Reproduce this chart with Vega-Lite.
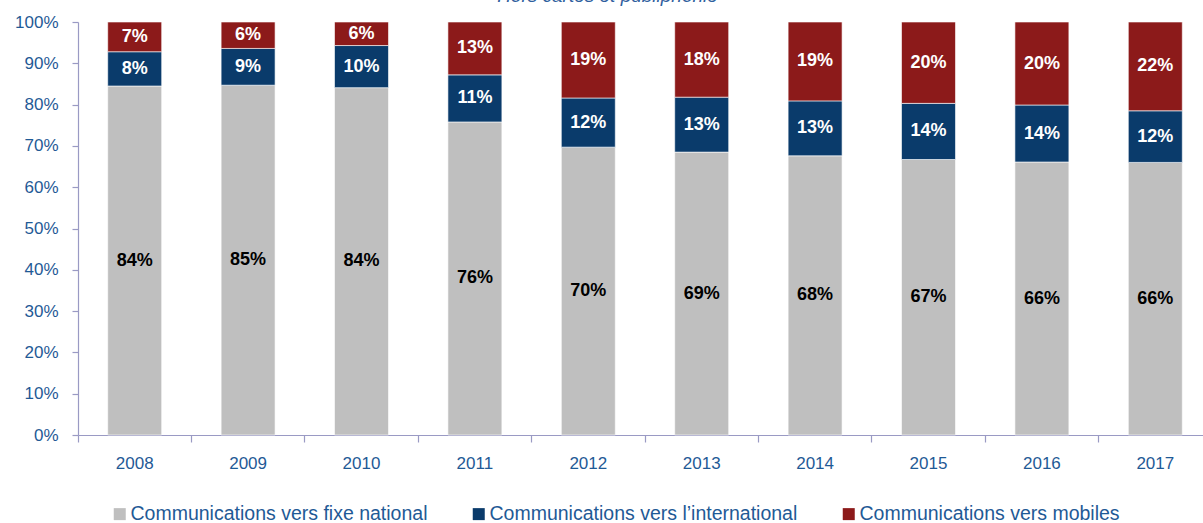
{
  "$schema": "https://vega.github.io/schema/vega-lite/v6.json",
  "width": 1125,
  "height": 413,
  "autosize": "none",
  "padding": {"left": 78, "top": 22, "right": 0, "bottom": 88},
  "config": {"view": {"stroke": null}, "font": "Liberation Sans"},
  "title": {
    "text": "Hors cartes et publiphonie",
    "font": "Liberation Sans",
    "fontSize": 19,
    "fontStyle": "italic",
    "fontWeight": "normal",
    "color": "#2F5F9E",
    "anchor": "middle",
    "frame": "group",
    "baseline": "alphabetic",
    "offset": 0,
    "dx": -33,
    "dy": 8
  },
  "data": {
    "values": [
      {"year": "2008", "series": "Communications vers fixe national", "rank": 1, "value": 84.5, "label": "84%"},
      {"year": "2008", "series": "Communications vers l’international", "rank": 2, "value": 8.3, "label": "8%"},
      {"year": "2008", "series": "Communications vers mobiles", "rank": 3, "value": 7.2, "label": "7%"},
      {"year": "2009", "series": "Communications vers fixe national", "rank": 1, "value": 84.7, "label": "85%"},
      {"year": "2009", "series": "Communications vers l’international", "rank": 2, "value": 8.9, "label": "9%"},
      {"year": "2009", "series": "Communications vers mobiles", "rank": 3, "value": 6.4, "label": "6%"},
      {"year": "2010", "series": "Communications vers fixe national", "rank": 1, "value": 84.1, "label": "84%"},
      {"year": "2010", "series": "Communications vers l’international", "rank": 2, "value": 10.2, "label": "10%"},
      {"year": "2010", "series": "Communications vers mobiles", "rank": 3, "value": 5.7, "label": "6%"},
      {"year": "2011", "series": "Communications vers fixe national", "rank": 1, "value": 75.8, "label": "76%"},
      {"year": "2011", "series": "Communications vers l’international", "rank": 2, "value": 11.4, "label": "11%"},
      {"year": "2011", "series": "Communications vers mobiles", "rank": 3, "value": 12.8, "label": "13%"},
      {"year": "2012", "series": "Communications vers fixe national", "rank": 1, "value": 69.7, "label": "70%"},
      {"year": "2012", "series": "Communications vers l’international", "rank": 2, "value": 11.9, "label": "12%"},
      {"year": "2012", "series": "Communications vers mobiles", "rank": 3, "value": 18.4, "label": "19%"},
      {"year": "2013", "series": "Communications vers fixe national", "rank": 1, "value": 68.5, "label": "69%"},
      {"year": "2013", "series": "Communications vers l’international", "rank": 2, "value": 13.3, "label": "13%"},
      {"year": "2013", "series": "Communications vers mobiles", "rank": 3, "value": 18.2, "label": "18%"},
      {"year": "2014", "series": "Communications vers fixe national", "rank": 1, "value": 67.6, "label": "68%"},
      {"year": "2014", "series": "Communications vers l’international", "rank": 2, "value": 13.3, "label": "13%"},
      {"year": "2014", "series": "Communications vers mobiles", "rank": 3, "value": 19.1, "label": "19%"},
      {"year": "2015", "series": "Communications vers fixe national", "rank": 1, "value": 66.7, "label": "67%"},
      {"year": "2015", "series": "Communications vers l’international", "rank": 2, "value": 13.6, "label": "14%"},
      {"year": "2015", "series": "Communications vers mobiles", "rank": 3, "value": 19.7, "label": "20%"},
      {"year": "2016", "series": "Communications vers fixe national", "rank": 1, "value": 66.1, "label": "66%"},
      {"year": "2016", "series": "Communications vers l’international", "rank": 2, "value": 13.8, "label": "14%"},
      {"year": "2016", "series": "Communications vers mobiles", "rank": 3, "value": 20.1, "label": "20%"},
      {"year": "2017", "series": "Communications vers fixe national", "rank": 1, "value": 66.0, "label": "66%"},
      {"year": "2017", "series": "Communications vers l’international", "rank": 2, "value": 12.5, "label": "12%"},
      {"year": "2017", "series": "Communications vers mobiles", "rank": 3, "value": 21.5, "label": "22%"}
    ]
  },
  "encoding": {
    "x": {
      "field": "year",
      "type": "ordinal",
      "title": null,
      "scale": {"range": [0, 1134], "paddingInner": 0.524, "paddingOuter": 0.262},
      "axis": {
        "bandPosition": -0.55,
        "labelAngle": 0,
        "labelFont": "Liberation Sans",
        "labelFontSize": 17,
        "labelColor": "#1F5A96",
        "labelPadding": 13,
        "domainColor": "#9A9AC4",
        "domainWidth": 1.2,
        "tickColor": "#9A9AC4",
        "tickWidth": 1.2,
        "tickSize": 7,
        "grid": false
      }
    },
    "order": {"field": "rank", "type": "quantitative", "sort": "ascending"}
  },
  "layer": [
    {
      "mark": {"type": "bar", "stroke": "#ffffff", "strokeWidth": 0.6},
      "encoding": {
        "y": {
          "field": "value",
          "type": "quantitative",
          "stack": "normalize",
          "title": null,
          "scale": {"domain": [0, 1]},
          "axis": {
            "values": [0, 0.1, 0.2, 0.3, 0.4, 0.5, 0.6, 0.7, 0.8, 0.9, 1],
            "format": ".0%",
            "labelFont": "Liberation Sans",
            "labelFontSize": 17,
            "labelColor": "#1F5A96",
            "labelPadding": 14,
            "domainColor": "#9A9AC4",
            "domainWidth": 1.2,
            "tickColor": "#9A9AC4",
            "tickWidth": 1.2,
            "tickSize": 6,
            "grid": false
          }
        },
        "color": {
          "field": "series",
          "type": "nominal",
          "scale": {
            "domain": ["Communications vers fixe national", "Communications vers l’international", "Communications vers mobiles"],
            "range": ["#BFBFBF", "#0A3B6B", "#8C1A1A"]
          },
          "legend": {
            "title": null,
            "orient": "none",
            "direction": "horizontal",
            "legendX": 32,
            "legendY": 482,
            "symbolType": "square",
            "symbolSize": 144,
            "symbolStrokeWidth": 0,
            "labelFont": "Liberation Sans",
            "labelFontSize": 19.5,
            "labelColor": "#1F5A96",
            "labelOffset": 1,
            "columnPadding": 41,
            "labelLimit": 400
          }
        }
      }
    },
    {
      "mark": {"type": "text", "font": "Liberation Sans", "fontWeight": "bold", "fontSize": 18, "baseline": "middle"},
      "encoding": {
        "y": {"field": "value", "type": "quantitative", "stack": "normalize", "bandPosition": 0.5},
        "detail": {"field": "series"},
        "text": {"field": "label"},
        "color": {
          "condition": {"test": "datum.series === 'Communications vers fixe national'", "value": "#000000"},
          "value": "#FFFFFF"
        }
      }
    }
  ]
}
